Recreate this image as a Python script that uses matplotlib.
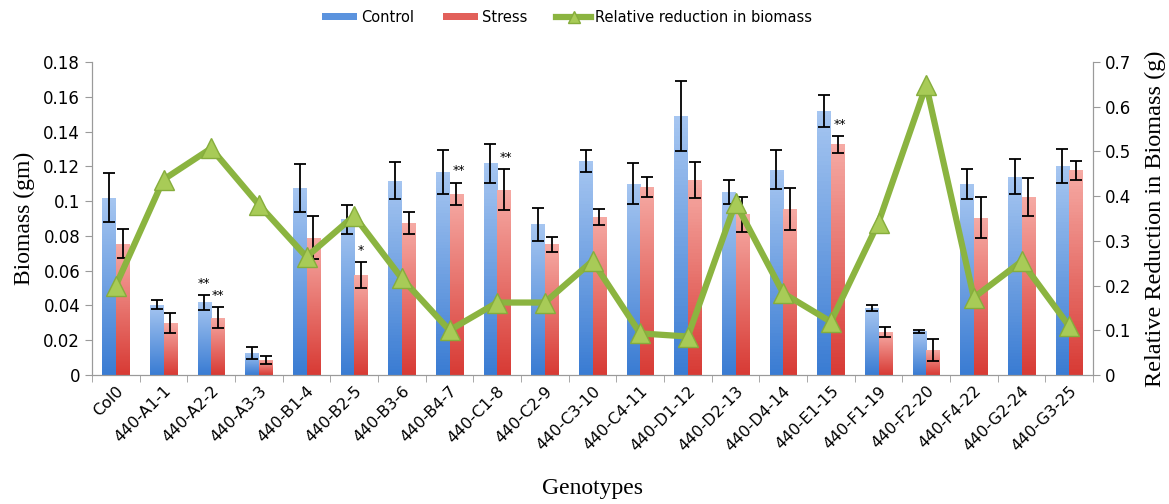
import numpy as np
import matplotlib
matplotlib.use("Agg")
import matplotlib.pyplot as plt
from matplotlib.colors import LinearSegmentedColormap
from matplotlib.patches import Patch
from matplotlib.lines import Line2D

genotypes = ["Col0", "440-A1-1", "440-A2-2", "440-A3-3", "440-B1-4", "440-B2-5",
             "440-B3-6", "440-B4-7", "440-C1-8", "440-C2-9", "440-C3-10", "440-C4-11",
             "440-D1-12", "440-D2-13", "440-D4-14", "440-E1-15", "440-F1-19", "440-F2-20",
             "440-F4-22", "440-G2-24", "440-G3-25"]
control = [0.102, 0.0405, 0.0417, 0.0128, 0.1077, 0.0895, 0.1118, 0.1167, 0.1217, 0.0867,
           0.1228, 0.1101, 0.1488, 0.1052, 0.1180, 0.1518, 0.0385, 0.0251, 0.1098, 0.1141,
           0.1201]
control_err = [0.0140, 0.0028, 0.0042, 0.0035, 0.0138, 0.0082, 0.0108, 0.0125, 0.0112, 0.0095,
               0.0063, 0.0120, 0.0200, 0.0071, 0.0111, 0.0094, 0.0015, 0.0008, 0.0085, 0.0103,
               0.0096]
stress = [0.0755, 0.0298, 0.0329, 0.0088, 0.0790, 0.0575, 0.0873, 0.1042, 0.1064, 0.0752,
          0.0910, 0.1083, 0.1122, 0.0923, 0.0954, 0.1326, 0.0247, 0.0145, 0.0904, 0.1023,
          0.1177]
stress_err = [0.0085, 0.0058, 0.0060, 0.0023, 0.0123, 0.0075, 0.0062, 0.0064, 0.0118, 0.0042,
              0.0046, 0.0057, 0.0105, 0.0100, 0.0121, 0.0050, 0.0029, 0.0064, 0.0117, 0.0108,
              0.0056]
reduction = [0.200, 0.437, 0.507, 0.381, 0.264, 0.356, 0.216, 0.100, 0.162, 0.162, 0.255,
             0.093, 0.086, 0.385, 0.183, 0.119, 0.341, 0.648, 0.173, 0.254, 0.109]
# significance marks: (genotype index, series, text)
stars = [(2, "control", "**"), (2, "stress", "**"), (5, "stress", "*"),
         (7, "stress", "**"), (8, "stress", "**"), (15, "stress", "**")]

blue_map = LinearSegmentedColormap.from_list("blue", ["#3a7cd3", "#a6c6f1"])
red_map = LinearSegmentedColormap.from_list("red", ["#d83b35", "#f6aaa4"])
green = "#8bb440"

fig = plt.figure(figsize=(11.69, 5.04), dpi=100)
ax = fig.add_axes([0.0787, 0.256, 0.8563, 0.621])
ax2 = ax.twinx()

x = np.arange(len(genotypes))
w = 0.285
grad = np.linspace(0, 1, 64).reshape(-1, 1)


def gradient_bars(xs, heights, cmap):
    bars = ax.bar(xs, heights, w, facecolor="none", edgecolor="none", zorder=2)
    for b in bars:
        x0, y0 = b.get_x(), b.get_y()
        im = ax.imshow(grad, cmap=cmap, origin="lower", aspect="auto", zorder=2,
                       extent=(x0, x0 + b.get_width(), y0, y0 + b.get_height()))
        im.set_clip_path(b)
    return bars


gradient_bars(x - w / 2, control, blue_map)
gradient_bars(x + w / 2, stress, red_map)
ax.errorbar(x - w / 2, control, yerr=control_err, fmt="none", ecolor="black",
            elinewidth=1.3, capsize=4, capthick=1.3, zorder=3)
ax.errorbar(x + w / 2, stress, yerr=stress_err, fmt="none", ecolor="black",
            elinewidth=1.3, capsize=4, capthick=1.3, zorder=3)

for i, series, txt in stars:
    if series == "control":
        xi, top = x[i] - w / 2, control[i] + control_err[i]
    else:
        xi, top = x[i] + w / 2, stress[i] + stress_err[i]
        if txt == "**" and i != 2:
            xi += 0.05
    ax.text(xi, top + 0.003, txt, ha="center", va="bottom", fontsize=9, zorder=4)

ax2.plot(x, reduction, color=green, lw=4.5, marker="^", markersize=14,
         markerfacecolor="#a8cb57", markeredgecolor="#86ad3c", markeredgewidth=1, zorder=5)

ax.set_xlim(-0.5, len(genotypes) - 0.5)
ax.set_ylim(0, 0.18)
ax2.set_ylim(0, 0.7)
ax.set_yticks(np.arange(0, 0.181, 0.02))
ax.set_yticklabels(["0"] + ["%g" % v for v in np.arange(0.02, 0.181, 0.02)])
ax2.set_yticks(np.arange(0, 0.71, 0.1))
ax2.set_yticklabels(["0"] + ["%g" % round(v, 1) for v in np.arange(0.1, 0.71, 0.1)])

ax.set_xticks(x)
ax.set_xticklabels(genotypes, rotation=45, ha="right", rotation_mode="anchor", fontsize=11.5)
ax.set_xticks(np.arange(-0.5, len(genotypes)), minor=True)
ax.tick_params(axis="x", which="major", length=0, pad=6)
ax.tick_params(axis="x", which="minor", length=5, color="#9a9a9a")
ax.tick_params(axis="y", length=5, color="#9a9a9a", labelsize=12)
ax2.tick_params(axis="y", length=5, color="#9a9a9a", labelsize=12)

for a in (ax, ax2):
    a.spines["top"].set_visible(False)
    for s in ("left", "right", "bottom"):
        a.spines[s].set_color("#9a9a9a")

serif = "Liberation Serif"
ax.set_ylabel("Biomass (gm)", fontfamily=serif, fontsize=17, labelpad=6)
ax2.set_ylabel("Relative Reduction in Biomass (g)", fontfamily=serif, fontsize=17.5,
               rotation=90, labelpad=10)
ax.set_xlabel("Genotypes", fontfamily=serif, fontsize=17)
ax.xaxis.set_label_coords(0.5, -0.33)

handles = [Patch(facecolor="#5b93de", edgecolor="none"),
           Patch(facecolor="#e2605a", edgecolor="none"),
           Line2D([], [], color=green, lw=4.5, marker="^", markersize=9,
                  markerfacecolor="#a8cb57", markeredgecolor="#86ad3c")]
fig.legend(handles, ["Control", "Stress", "Relative reduction in biomass"],
           loc="center", bbox_to_anchor=(0.485, 0.966), ncol=3, frameon=False,
           fontsize=10.5, handlelength=2.4, handleheight=0.45, handletextpad=0.25,
           columnspacing=2.0)

fig.savefig("out.png", dpi=100)
